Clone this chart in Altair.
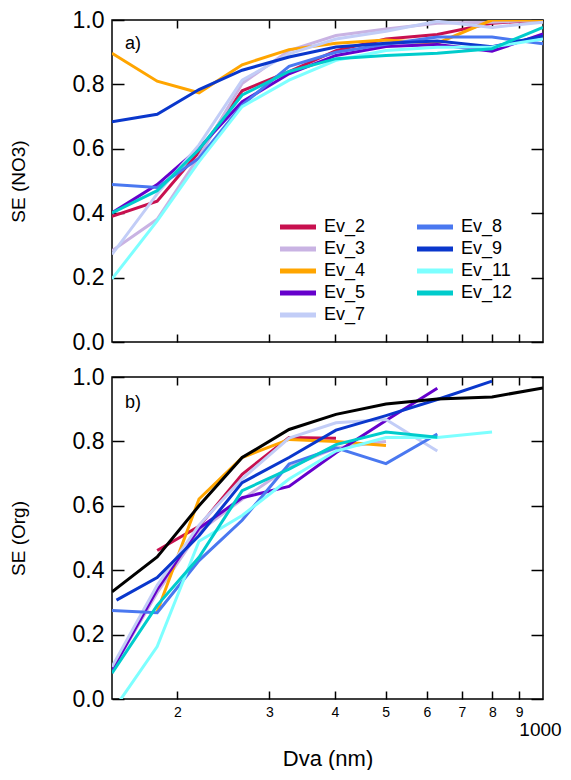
import altair as alt
import pandas as pd

# ---------------- data ----------------
x_nm = [150, 183, 220, 266, 327, 402, 501, 628, 799, 1000]

events = ["Ev_2", "Ev_3", "Ev_4", "Ev_5", "Ev_7", "Ev_8", "Ev_9", "Ev_11", "Ev_12"]
colors = ["#c8104f", "#c9b3e3", "#ffa500", "#6600cc", "#c2cdf7",
          "#4a78f0", "#0a37cc", "#7dffff", "#00cccc"]

# panel a) SE (NO3)
no3_ev2 = [0.39, 0.437, 0.59, 0.78, 0.84, 0.905, 0.941, 0.955, 0.99, 1.0]
no3_ev3 = [0.283, 0.381, 0.576, 0.803, 0.905, 0.952, 0.972, 0.99, 0.993, 1.0]
no3_ev4 = [0.897, 0.81, 0.774, 0.861, 0.908, 0.928, 0.938, 0.928, 1.0, 1.0]
no3_ev5 = [0.401, 0.489, 0.602, 0.746, 0.833, 0.89, 0.918, 0.924, 0.903, 0.957]
no3_ev7 = [0.272, 0.46, 0.612, 0.813, 0.895, 0.941, 0.965, 0.996, 0.977, 0.993]
no3_ev8 = [0.489, 0.48, 0.571, 0.736, 0.856, 0.9, 0.925, 0.947, 0.947, 0.926]
no3_ev9 = [0.684, 0.707, 0.784, 0.844, 0.885, 0.916, 0.928, 0.935, 0.917, 0.95]
no3_ev11 = [0.196, 0.376, 0.56, 0.731, 0.813, 0.875, 0.905, 0.915, 0.916, 0.941]
no3_ev12 = [0.401, 0.47, 0.598, 0.767, 0.84, 0.88, 0.89, 0.897, 0.911, 0.977]

# panel b) SE (Org)
org_ev2_x = [183, 220, 266, 327, 402]
org_ev2 = [0.461, 0.536, 0.698, 0.812, 0.81]
org_ev3_x = [150, 183, 220, 266, 327, 402, 501]
org_ev3 = [0.09, 0.33, 0.52, 0.62, 0.72, 0.78, 0.80]
org_ev4_x = [183, 220, 266, 327, 402, 501]
org_ev4 = [0.271, 0.621, 0.75, 0.806, 0.80, 0.787]
org_ev5_x = [150, 183, 220, 266, 327, 402, 501, 628]
org_ev5 = [0.09, 0.34, 0.53, 0.625, 0.66, 0.765, 0.865, 0.965]
org_ev7_x = [150, 183, 220, 266, 327, 402, 501, 628]
org_ev7 = [0.10, 0.353, 0.54, 0.684, 0.81, 0.858, 0.868, 0.77]
org_ev8_x = [150, 183, 220, 266, 327, 402, 501, 628]
org_ev8 = [0.275, 0.268, 0.43, 0.555, 0.73, 0.78, 0.731, 0.823]
org_ev9_x = [153, 183, 220, 266, 327, 402, 501, 628, 799]
org_ev9 = [0.307, 0.377, 0.507, 0.672, 0.75, 0.835, 0.88, 0.93, 0.987]
org_ev11_x = [150, 183, 220, 266, 327, 402, 501, 628, 799]
org_ev11 = [-0.04, 0.163, 0.49, 0.57, 0.683, 0.77, 0.812, 0.812, 0.829]
org_ev12_x = [150, 183, 220, 266, 327, 402, 501, 628]
org_ev12 = [0.08, 0.291, 0.44, 0.647, 0.714, 0.79, 0.829, 0.813]
org_black = [0.333, 0.441, 0.6, 0.75, 0.837, 0.884, 0.916, 0.932, 0.938, 0.966]

minor_ticks = [200, 300, 400, 500, 600, 700, 800, 900]
y_ticks = [0.0, 0.2, 0.4, 0.6, 0.8, 1.0]

# ---------------- tables ----------------
no3_series = [no3_ev2, no3_ev3, no3_ev4, no3_ev5, no3_ev7, no3_ev8, no3_ev9, no3_ev11, no3_ev12]
rows = []
for ev, ys in zip(events, no3_series):
    for xv, yv in zip(x_nm, ys):
        rows.append({"x": xv, "y": yv, "ev": ev})
df_no3 = pd.DataFrame(rows)

org_series = [(org_ev2_x, org_ev2), (org_ev3_x, org_ev3), (org_ev4_x, org_ev4),
              (org_ev5_x, org_ev5), (org_ev7_x, org_ev7), (org_ev8_x, org_ev8),
              (org_ev9_x, org_ev9), (org_ev11_x, org_ev11), (org_ev12_x, org_ev12)]
rows = []
for ev, (xs, ys) in zip(events, org_series):
    for xv, yv in zip(xs, ys):
        rows.append({"x": xv, "y": yv, "ev": ev})
df_org = pd.DataFrame(rows)
df_black = pd.DataFrame({"x": x_nm, "y": org_black})

# ---------------- chart ----------------
W, H = 431, 322
FONT = "Liberation Sans"
xscale = alt.Scale(type="log", domain=[150, 1000], nice=False)
yscale = alt.Scale(domain=[0, 1], nice=False)
cscale = alt.Scale(domain=events, range=colors)


def tick_layers(df):
    # inward ticks on all four sides (axes moved across the plot with a negative offset)
    t1 = alt.Chart(df).mark_point(opacity=0).encode(
        x=alt.X("x:Q", scale=xscale, axis=alt.Axis(
            orient="top", offset=-H, values=minor_ticks, labels=False, domain=False,
            grid=False, tickSize=8, tickWidth=1.5, tickColor="black", title=None)),
        y=alt.Y("y:Q", scale=yscale, axis=alt.Axis(
            orient="right", offset=-W, values=y_ticks, labels=False, domain=False,
            grid=False, tickSize=12, tickWidth=1.5, tickColor="black", title=None)),
    )
    t2 = alt.Chart(df).mark_point(opacity=0).encode(
        x=alt.X("x:Q", scale=xscale, axis=alt.Axis(
            orient="bottom", offset=-H, values=minor_ticks, labels=False, domain=False,
            grid=False, tickSize=8, tickWidth=1.5, tickColor="black", title=None)),
        y=alt.Y("y:Q", scale=yscale, axis=alt.Axis(
            orient="left", offset=-W, values=y_ticks, labels=False, domain=False,
            grid=False, tickSize=12, tickWidth=1.5, tickColor="black", title=None)),
    )
    return [t1, t2]


def main_layer(df, ytitle, show_xlabels, legend):
    if show_xlabels:
        xaxis = alt.Axis(orient="bottom", values=minor_ticks, labelExpr="datum.value / 100",
                         ticks=False, domain=False, grid=False, labelFontSize=14,
                         labelPadding=6, title=None)
    else:
        xaxis = None
    return alt.Chart(df).mark_line(strokeWidth=3, clip=True).encode(
        x=alt.X("x:Q", scale=xscale, axis=xaxis),
        y=alt.Y("y:Q", scale=yscale, axis=alt.Axis(
            orient="left", values=y_ticks, format=".1f", ticks=False, domain=False,
            grid=False, labelFontSize=23, labelPadding=8, title=ytitle,
            titleFontSize=19, titleFontWeight="normal", titlePadding=44)),
        color=alt.Color("ev:N", scale=cscale, legend=legend),
    )


def label_layer(txt, ypos):
    return alt.Chart(pd.DataFrame({"t": [txt]})).mark_text(
        align="left", baseline="middle", fontSize=18, font=FONT, color="black"
    ).encode(text="t:N", x=alt.value(13), y=alt.value(ypos))


legend_a = alt.Legend(
    orient="none", legendX=177, legendY=198, columns=2, title=None,
    symbolType="M-3,0H3", symbolSize=144, symbolStrokeWidth=5,
    labelFontSize=18, labelFont=FONT, labelOffset=17, columnPadding=41,
    rowPadding=2, padding=0, labelColor="black")

top = alt.layer(
    main_layer(df_no3, "SE (NO3)", False, legend_a),
    *tick_layers(df_no3),
    label_layer("a)", 24),
).resolve_axis(x="independent", y="independent").properties(width=W, height=H)

thousand = alt.Chart(df_black).mark_point(opacity=0).encode(
    x=alt.X("x:Q", scale=xscale, axis=alt.Axis(
        orient="bottom", values=[1000], labelExpr="'1000'", ticks=False, domain=False,
        grid=False, labelFontSize=19, labelPadding=21, labelAlign="center", labelOffset=-3,
        title="Dva (nm)", titleFontSize=22, titleFontWeight="normal", titlePadding=9)),
    y=alt.Y("y:Q", scale=yscale, axis=None),
)

black_line = alt.Chart(df_black).mark_line(strokeWidth=3, clip=True, color="black").encode(
    x=alt.X("x:Q", scale=xscale, axis=None),
    y=alt.Y("y:Q", scale=yscale, axis=None),
)

bottom = alt.layer(
    main_layer(df_org, "SE (Org)", True, None),
    black_line,
    *tick_layers(df_org),
    thousand,
    label_layer("b)", 26),
).resolve_axis(x="independent", y="independent").properties(width=W, height=H)

chart = alt.vconcat(top, bottom, spacing=10).resolve_scale(color="independent").properties(
    padding={"left": 0, "top": 0, "right": 0, "bottom": 0}
).configure(font=FONT).configure_view(
    stroke="black", strokeWidth=1.5
).configure_axis(
    labelColor="black", titleColor="black", labelFont=FONT, titleFont=FONT
)

chart.save("out.html", embed_options={"renderer": "svg", "actions": False})
